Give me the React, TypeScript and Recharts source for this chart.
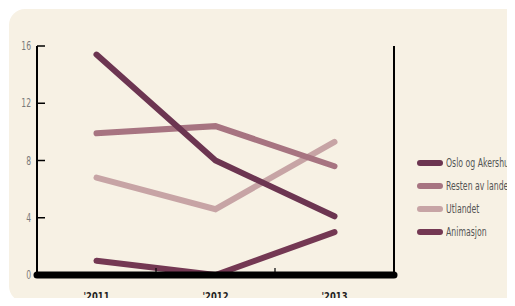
import React from 'react';
import { LineChart, Line, XAxis, YAxis, Legend } from 'recharts';

const years = ["'2011", "'2012", "'2013"];
const osloAkershus = [15.4, 8.0, 4.1];
const restenAvLandet = [9.9, 10.4, 7.6];
const utlandet = [6.8, 4.6, 9.3];
const animasjon = [1.0, 0.0, 3.0];
const yTicks = [0, 4, 8, 12, 16];

const SERIES = [
  { key: 'osloAkershus', name: 'Oslo og Akershus', color: '#6c3551' },
  { key: 'restenAvLandet', name: 'Resten av landet', color: '#a77481' },
  { key: 'utlandet', name: 'Utlandet', color: '#c7a4a5' },
  { key: 'animasjon', name: 'Animasjon', color: '#743853' },
];

const data = years.map((year, i) => ({
  year,
  osloAkershus: osloAkershus[i],
  restenAvLandet: restenAvLandet[i],
  utlandet: utlandet[i],
  animasjon: animasjon[i],
}));

const FONT = '"DejaVu Sans Condensed", sans-serif';

// the source uses a very narrow face, so squeeze the text horizontally
function NarrowText({ x, y, anchor, size, weight, fill, sx, children }: any) {
  return (
    <g transform={`translate(${x},${y}) scale(${sx},1)`}>
      <text x={0} y={0} textAnchor={anchor} dominantBaseline="central" fill={fill} fontSize={size} fontWeight={weight} fontFamily={FONT}>
        {children}
      </text>
    </g>
  );
}

function YearTick(props: any) {
  const { x, y, payload, index, width, visibleTicksCount } = props;
  const bw = width / visibleTicksCount;
  const axisY = y - 8;
  return (
    <g>
      {index > 0 && (
        <line x1={x - bw / 2} x2={x - bw / 2} y1={axisY - 7} y2={axisY} stroke="#000" strokeWidth={1.2} />
      )}
      <NarrowText x={x} y={axisY + 21} anchor="middle" size={11} weight={700} fill="#1e1e1e" sx={0.85}>
        {payload.value}
      </NarrowText>
    </g>
  );
}

function ValueTick(props: any) {
  const { x, y, payload, textAnchor } = props;
  return (
    <NarrowText x={x} y={y} anchor={textAnchor} size={12.5} weight={400} fill="#7a7a7a" sx={0.68}>
      {payload.value}
    </NarrowText>
  );
}

function LegendList() {
  return (
    <div style={{ fontFamily: FONT, fontSize: 11.5, color: '#555', whiteSpace: 'nowrap' }}>
      {SERIES.map((s) => (
        <div key={s.key} style={{ display: 'flex', alignItems: 'center', height: 23 }}>
          <span style={{ display: 'inline-block', width: 26, height: 6, borderRadius: 3, background: s.color, marginRight: 3, flex: 'none' }} />
          <span style={{ display: 'inline-block', transform: 'scaleX(0.75)', transformOrigin: 'left center' }}>{s.name}</span>
        </div>
      ))}
    </div>
  );
}

export default function App() {
  return (
    <div style={{ position: 'relative', margin: -8, width: 515, height: 306, background: '#fff', overflow: 'hidden' }}>
      <div style={{ position: 'absolute', left: 9, top: 9, width: 530, height: 293, borderRadius: 16, background: '#f7f1e4' }} />
      <div style={{ position: 'absolute', left: 0, top: 0 }}>
        <LineChart width={515} height={306} data={data} margin={{ top: 46, right: 0, bottom: 0, left: 0 }}>
          <XAxis
            dataKey="year"
            scale="band"
            height={31}
            axisLine={{ stroke: '#000', strokeWidth: 7, strokeLinecap: 'round' }}
            tickLine={false}
            tickSize={6}
            tickMargin={2}
            tick={<YearTick />}
            interval={0}
          />
          <YAxis
            yAxisId="left"
            orientation="left"
            width={37}
            domain={[0, 16]}
            ticks={yTicks}
            axisLine={{ stroke: '#000', strokeWidth: 2 }}
            tickLine={{ stroke: '#000', strokeWidth: 1.5 }}
            tickSize={-8}
            tickMargin={14}
            tick={<ValueTick />}
          />
          <YAxis
            yAxisId="right"
            orientation="right"
            width={121}
            domain={[0, 16]}
            ticks={yTicks}
            axisLine={{ stroke: '#000', strokeWidth: 2 }}
            tickLine={{ stroke: '#000', strokeWidth: 1.5 }}
            tickSize={-8}
            tickMargin={14}
            tick={<ValueTick />}
          />
          <Legend
            layout="horizontal"
            verticalAlign="middle"
            align="center"
            content={<LegendList />}
            wrapperStyle={{ left: 417, top: 151, width: 110 }}
          />
          {[2, 1, 3, 0].map((i) => {
            const s = SERIES[i];
            return (
              <Line
                key={s.key}
                yAxisId="left"
                type="linear"
                dataKey={s.key}
                name={s.name}
                stroke={s.color}
                strokeWidth={6}
                strokeLinecap="round"
                dot={false}
                activeDot={false}
                isAnimationActive={false}
              />
            );
          })}
        </LineChart>
      </div>
    </div>
  );
}
